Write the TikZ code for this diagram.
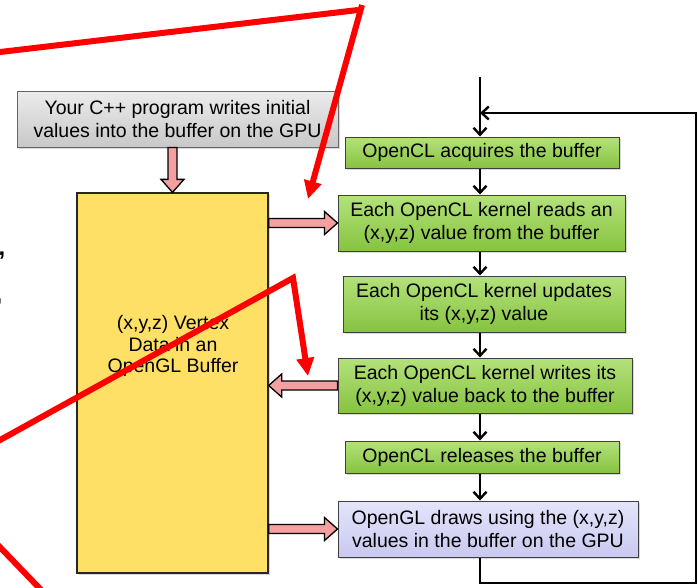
\documentclass[tikz,border=0pt]{standalone}
\usepackage{fontspec}
\setmainfont{Liberation Sans}
\usetikzlibrary{arrows.meta,calc,shadows}

\definecolor{greenTop}{HTML}{B4E27A}
\definecolor{greenBot}{HTML}{86C341}
\definecolor{grayTop}{HTML}{ECECEC}
\definecolor{grayBot}{HTML}{C8C8C8}
\definecolor{bufYellow}{HTML}{FFE066}
\definecolor{lavTop}{HTML}{E4E4FB}
\definecolor{lavBot}{HTML}{C9C9F0}
\definecolor{pinkFill}{HTML}{F4A0A0}
\definecolor{markRed}{HTML}{FF0000}

\tikzset{
  box/.style={draw=black!75, line width=1pt, align=center, inner sep=0pt,
    font=\fontsize{19.5}{23}\selectfont,
    drop shadow={shadow xshift=1.5pt, shadow yshift=-1.5pt, opacity=.3}},
  greenbox/.style={box, top color=greenTop, bottom color=greenBot},
  graybox/.style={box, draw=black!60, top color=grayTop, bottom color=grayBot},
  lavbox/.style={box, top color=lavTop, bottom color=lavBot},
  bufbox/.style={box, fill=bufYellow, draw=black!85, line width=1.3pt},
  flow/.style={draw=black, line width=2.4pt,
    -{Straight Barb[length=7pt,width=13pt,line width=2.4pt]}},
  pinkarr/.style={draw=black, line width=1.3pt, fill=pinkFill, line join=miter},
  redmark/.style={draw=markRed, line width=6pt},
}

% fat outlined arrow from #1 to #2
\newcommand{\pinkarrow}[2]{%
  \draw[pinkarr]
    ($(#1)!4.5pt!90:(#2)$) --
    ($(#2)!13pt!(#1)!4.5pt!90:(#2)$) --
    ($(#2)!13pt!(#1)!11.5pt!90:(#2)$) --
    (#2) --
    ($(#2)!13pt!(#1)!11.5pt!-90:(#2)$) --
    ($(#2)!13pt!(#1)!4.5pt!-90:(#2)$) --
    ($(#1)!4.5pt!-90:(#2)$) -- cycle;}

\begin{document}
\begin{tikzpicture}[x=1pt,y=-1pt]
\useasboundingbox (0,0) rectangle (698,587);

% commas left over at the slide edge
\node[font=\fontsize{24}{24}\selectfont\bfseries, anchor=base west, inner sep=0pt] (cA) at (-1.5,255) {,};
\node[font=\fontsize{24}{24}\selectfont\bfseries, anchor=base west, inner sep=0pt] (cB) at (-4.5,302) {,};

% left column
\node[graybox, minimum width=321pt, minimum height=56pt] (prog) at (177.5,119)
  {Your C++ program writes initial\\values into the buffer on the GPU};
\node[bufbox, minimum width=191pt, minimum height=380pt] (buf) at (172.5,383) {};
\node[font=\fontsize{19.5}{21.5}\selectfont, align=center, inner sep=0pt] (buftext) at (173,346)
  {(x,y,z) Vertex\\Data in an\\OpenGL Buffer};

% right column
\node[greenbox, minimum width=274pt, minimum height=31pt] (acq) at (482,152.5)
  {OpenCL acquires the buffer};
\node[greenbox, minimum width=287pt, minimum height=56pt] (read) at (481.5,223)
  {Each OpenCL kernel reads an\\(x,y,z) value from the buffer};
\node[greenbox, minimum width=282pt, minimum height=56pt] (upd) at (484,304)
  {Each OpenCL kernel updates\\its (x,y,z) value};
\node[greenbox, minimum width=294pt, minimum height=55pt] (write) at (485,385.5)
  {Each OpenCL kernel writes its\\(x,y,z) value back to the buffer};
\node[greenbox, minimum width=274pt, minimum height=32pt] (rel) at (482,457)
  {OpenCL releases the buffer};
\node[lavbox, minimum width=300pt, minimum height=56pt] (draw) at (488,529)
  {OpenGL draws using the (x,y,z)\\values in the buffer on the GPU};

% flow through the steps
\coordinate (entry) at (480,77);
\coordinate (join) at (480,113);
\coordinate (loopR) at (696,583);
\draw[flow] (entry) -- (acq.north -| entry);
\draw[flow] (acq.south -| entry) -- (read.north -| entry);
\draw[flow] (read.south -| entry) -- (upd.north -| entry);
\draw[flow] (upd.south -| entry) -- (write.north -| entry);
\draw[flow] (write.south -| entry) -- (rel.north -| entry);
\draw[flow] (rel.south -| entry) -- (draw.north -| entry);
\draw[flow, line join=miter] (draw.south -| entry) -- (entry |- loopR) -- (loopR)
  -- (loopR |- join) -- (join);

% buffer transfers
\coordinate (pA) at (buf.north |- prog.south);
\coordinate (pB) at (buf.east |- read.west);
\coordinate (pC) at (buf.east |- write.west);
\coordinate (pD) at (buf.east |- draw.west);
\pinkarrow{pA}{buf.north}
\pinkarrow{pB}{read.west}
\pinkarrow{write.west}{pC}
\pinkarrow{pD}{draw.west}

% red annotation strokes
\coordinate (rA1) at (-5,52.6);
\coordinate (rA2) at (358,10);
\coordinate (rA3) at (362,5);
\coordinate (rA4) at (308,199);
\coordinate (rB1) at (-5,442.8);
\coordinate (rB2) at (293,278);
\coordinate (rB3) at (308,376);
\coordinate (rC1) at (-5,542);
\coordinate (rC2) at (46,595);
\draw[redmark] (rA1) -- (rA2);
\draw[redmark, -{Triangle[length=18pt,width=17pt]}] (rA3) -- (rA4);
\draw[redmark, line join=miter, -{Triangle[length=18pt,width=17pt]}] (rB1) -- (rB2) -- (rB3);
\draw[redmark] (rC1) -- (rC2);
\end{tikzpicture}
\end{document}
